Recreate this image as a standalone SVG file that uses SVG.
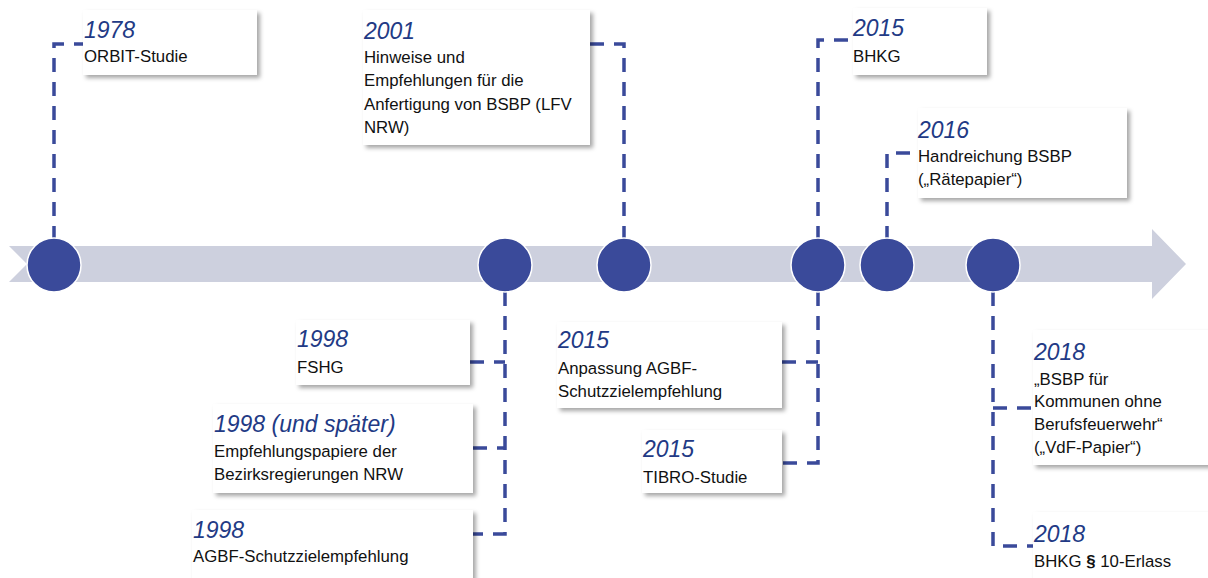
<svg xmlns="http://www.w3.org/2000/svg" width="1208" height="578" viewBox="0 0 1208 578">
<defs>
<filter id="sh" x="-10%" y="-10%" width="125%" height="135%">
<feDropShadow dx="3" dy="3" stdDeviation="2" flood-color="#000" flood-opacity="0.35"/>
</filter>
<style>
.box{fill:#fff;filter:url(#sh)}
.yr{font-family:"Liberation Sans",Arial,sans-serif;font-style:italic;font-size:23px;fill:#223a85}
.tx{font-family:"Liberation Sans",Arial,sans-serif;font-size:16.8px;fill:#111}
.dot{fill:#3a4a9a;stroke:#fff;stroke-width:1.5}
.con{fill:none;stroke:#3a4a9a;stroke-width:3.5;stroke-dasharray:14 10}
</style>
</defs>
<rect width="1208" height="578" fill="#fff"/>
<g id="timeline">
<polygon points="9,246 1152,246 1152,229 1186,264 1152,299 1152,282 9,282 27,264" fill="#cdd0de"/>
</g>
<g id="connectors">
<polyline class="con" points="54,240 54,44 84,44"/>
<polyline class="con" points="624,240 624,44 590,44"/>
<polyline class="con" points="818,240 818,40 853,40"/>
<polyline class="con" points="887,240 887,153 918,153"/>
<polyline class="con" points="505,292 505,534 472,534"/>
<line class="con" x1="470" y1="362" x2="505" y2="362"/>
<line class="con" x1="473" y1="448" x2="505" y2="448"/>
<polyline class="con" points="818,292 818,463 782,463"/>
<line class="con" x1="782" y1="362" x2="818" y2="362"/>
<polyline class="con" points="993,292 993,546 1033,546"/>
<line class="con" x1="993" y1="408" x2="1033" y2="408"/>
</g>
<g id="dots">
<circle class="dot" cx="54" cy="265" r="27"/>
<circle class="dot" cx="505" cy="265" r="27"/>
<circle class="dot" cx="624" cy="265" r="27"/>
<circle class="dot" cx="818" cy="265" r="27"/>
<circle class="dot" cx="887" cy="265" r="27"/>
<circle class="dot" cx="993" cy="265" r="27"/>
</g>
<g id="n1978">
<rect class="box" x="83" y="10" width="174" height="65"/>
<text class="yr" x="84" y="38">1978</text>
<text class="tx" x="84" y="62">ORBIT-Studie</text>
</g>
<g id="n2001">
<rect class="box" x="363" y="10" width="227" height="135"/>
<text class="yr" x="364" y="39">2001</text>
<text class="tx" x="364" y="63">Hinweise und</text>
<text class="tx" x="364" y="86">Empfehlungen für die</text>
<text class="tx" x="364" y="110">Anfertigung von BSBP (LFV</text>
<text class="tx" x="364" y="133">NRW)</text>
</g>
<g id="n2015a">
<rect class="box" x="853" y="8" width="134" height="67"/>
<text class="yr" x="853" y="36">2015</text>
<text class="tx" x="853" y="62">BHKG</text>
</g>
<g id="n2016">
<rect class="box" x="918" y="108" width="209" height="90"/>
<text class="yr" x="918" y="138">2016</text>
<text class="tx" x="918" y="162">Handreichung BSBP</text>
<text class="tx" x="918" y="185">(„Rätepapier“)</text>
</g>
<g id="n1998a">
<rect class="box" x="296" y="320" width="174" height="65"/>
<text class="yr" x="297" y="347">1998</text>
<text class="tx" x="297" y="373">FSHG</text>
</g>
<g id="n1998b">
<rect class="box" x="213" y="404" width="260" height="89"/>
<text class="yr" x="214" y="432">1998 (und später)</text>
<text class="tx" x="214" y="457">Empfehlungspapiere der</text>
<text class="tx" x="214" y="480">Bezirksregierungen NRW</text>
</g>
<g id="n1998c">
<rect class="box" x="192" y="510" width="281" height="75"/>
<text class="yr" x="193" y="538">1998</text>
<text class="tx" x="193" y="562">AGBF-Schutzzielempfehlung</text>
</g>
<g id="n2015b">
<rect class="box" x="557" y="322" width="225" height="86"/>
<text class="yr" x="558" y="348">2015</text>
<text class="tx" x="558" y="374">Anpassung AGBF-</text>
<text class="tx" x="558" y="397">Schutzzielempfehlung</text>
</g>
<g id="n2015c">
<rect class="box" x="642" y="430" width="140" height="63"/>
<text class="yr" x="643" y="457">2015</text>
<text class="tx" x="643" y="483">TIBRO-Studie</text>
</g>
<g id="n2018a">
<rect class="box" x="1033" y="330" width="190" height="135"/>
<text class="yr" x="1034" y="360">2018</text>
<text class="tx" x="1034" y="385">„BSBP für</text>
<text class="tx" x="1034" y="407">Kommunen ohne</text>
<text class="tx" x="1034" y="430">Berufsfeuerwehr“</text>
<text class="tx" x="1034" y="453">(„VdF-Papier“)</text>
</g>
<g id="n2018b">
<rect class="box" x="1033" y="512" width="190" height="80"/>
<text class="yr" x="1034" y="542">2018</text>
<text class="tx" x="1034" y="567">BHKG <tspan font-weight="bold">§</tspan> 10-Erlass</text>
</g>
</svg>
